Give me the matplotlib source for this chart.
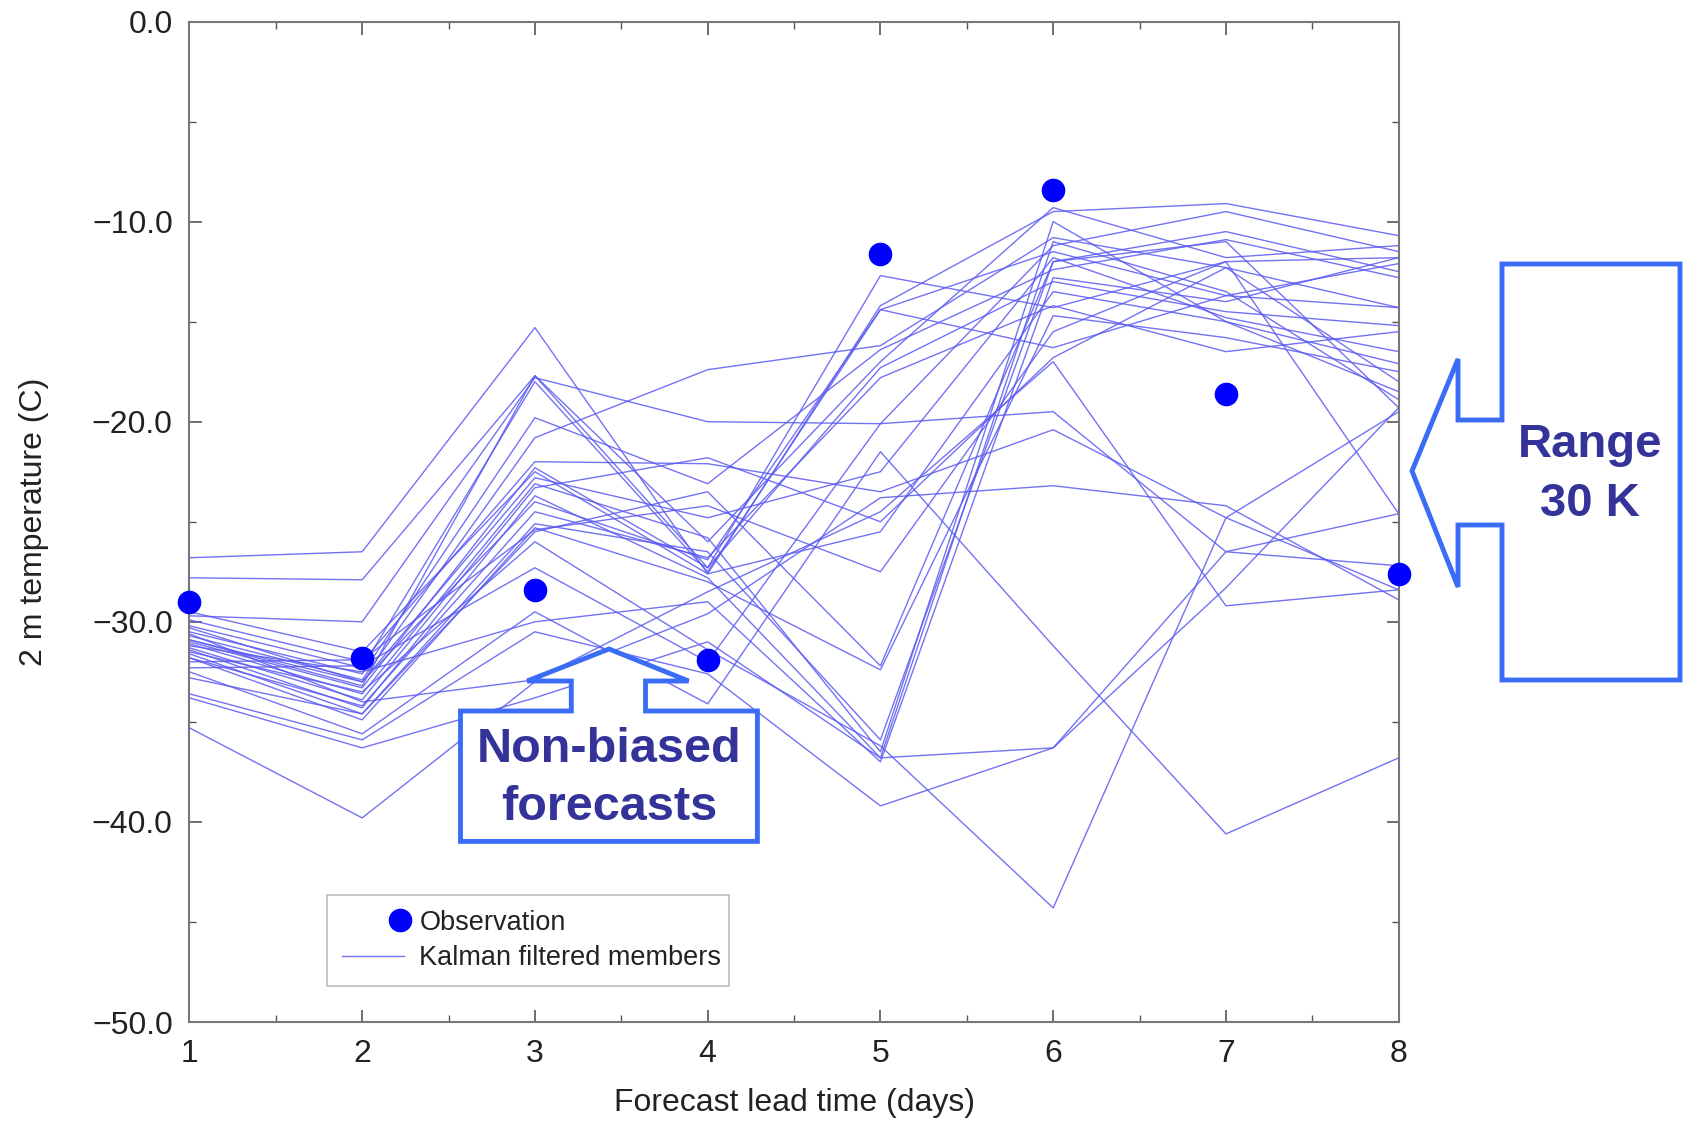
import matplotlib
matplotlib.use("Agg")
import matplotlib.pyplot as plt
from matplotlib.patches import Polygon
from matplotlib.lines import Line2D
from matplotlib.legend_handler import HandlerLine2D
from matplotlib.ticker import MultipleLocator, FuncFormatter

plt.rcParams['font.family'] = ['Liberation Sans', 'DejaVu Sans']

# ---- data ----
lead_days = [1, 2, 3, 4, 5, 6, 7, 8]
observation = [-29.0, -31.8, -28.4, -31.9, -11.6, -8.4, -18.6, -27.6]

m01 = [-35.3, -39.8, -33.0, -29.6, -23.8, -23.2, -24.2, -28.9]
m02 = [-33.8, -36.3, -33.8, -31.0, -36.8, -36.3, -26.5, -24.6]
m03 = [-33.6, -35.9, -30.5, -32.6, -39.2, -36.3, -28.3, -19.3]
m04 = [-32.5, -35.6, -29.5, -34.1, -21.5, -31.2, -40.6, -36.8]
m05 = [-26.8, -26.5, -15.3, -27.6, -14.2, -9.5, -9.1, -10.7]
m06 = [-27.8, -27.9, -17.7, -27.3, -12.7, -14.3, -12.0, -11.8]
m07 = [-29.7, -30.0, -17.8, -20.0, -20.1, -11.2, -9.5, -11.5]
m08 = [-30.2, -32.3, -18.0, -27.5, -14.4, -11.5, -13.7, -12.1]
m09 = [-30.5, -32.6, -19.8, -23.1, -16.4, -12.4, -10.9, -12.8]
m10 = [-30.7, -32.9, -20.8, -17.4, -16.2, -10.8, -12.3, -14.3]
m11 = [-31.0, -33.3, -22.3, -27.3, -17.3, -13.0, -14.5, -15.2]
m12 = [-31.1, -33.6, -23.1, -25.8, -36.5, -10.0, -15.0, -17.1]
m13 = [-31.3, -33.9, -23.3, -21.8, -25.0, -16.8, -12.3, -18.0]
m14 = [-31.4, -34.3, -23.7, -27.8, -36.8, -11.0, -13.5, -18.9]
m15 = [-31.6, -34.6, -25.1, -26.5, -35.9, -12.0, -11.0, -19.3]
m16 = [-31.8, -34.9, -25.3, -28.0, -32.4, -14.7, -15.8, -17.5]
m17 = [-32.0, -31.9, -25.4, -24.2, -27.5, -15.5, -12.0, -24.6]
m18 = [-32.3, -32.2, -27.3, -32.0, -20.1, -19.5, -26.5, -27.2]
m19 = [-29.9, -32.0, -22.0, -22.1, -23.5, -20.4, -24.8, -28.4]
m20 = [-30.9, -33.0, -24.0, -26.9, -14.4, -16.3, -13.7, -14.3]
m21 = [-31.2, -32.5, -30.0, -29.0, -37.0, -12.8, -14.0, -11.8]
m22 = [-30.6, -34.0, -32.9, -28.5, -24.5, -17.0, -29.2, -28.4]
m23 = [-31.5, -33.5, -26.0, -31.4, -36.2, -44.3, -24.8, -19.5]
m24 = [-32.8, -34.6, -25.5, -23.5, -32.2, -12.0, -10.5, -12.5]
m25 = [-29.5, -31.5, -22.5, -27.6, -25.5, -13.5, -15.0, -18.5]
m26 = [-30.9, -33.2, -17.7, -26.0, -17.0, -9.3, -11.8, -11.2]
m27 = [-31.8, -34.2, -24.5, -26.8, -17.8, -14.2, -16.5, -15.5]
m28 = [-30.3, -33.0, -22.8, -24.8, -22.5, -11.8, -14.8, -16.5]
members = [m01, m02, m03, m04, m05, m06, m07, m08, m09, m10, m11, m12, m13,
           m14, m15, m16, m17, m18, m19, m20, m21, m22, m23, m24, m25, m26,
           m27, m28]

y_ticks = [0.0, -10.0, -20.0, -30.0, -40.0, -50.0]

# ---- figure ----
W, H = 1687, 1121
fig = plt.figure(figsize=(W / 100, H / 100), dpi=100)
ax = fig.add_axes([189.4 / W, 1 - 1022 / H, (1398.7 - 189.4) / W, (1022 - 21.5) / H])

line_color = '#5a5af2'
for m in members:
    ax.plot(lead_days, m, color=line_color, lw=1.0, alpha=0.85, zorder=2)
ax.plot(lead_days, observation, linestyle='none', marker='o', ms=16,
        color='#0000ff', zorder=4, clip_on=False)

ax.set_xlim(1, 8)
ax.set_ylim(-50, 0)
ax.xaxis.set_major_locator(MultipleLocator(1))
ax.xaxis.set_minor_locator(MultipleLocator(0.5))
ax.set_yticks(y_ticks)
ax.yaxis.set_minor_locator(MultipleLocator(5))
ax.yaxis.set_major_formatter(FuncFormatter(lambda v, p: f"{v:.1f}".replace('-', '\u2212')))
ax.tick_params(which='both', direction='in', top=True, right=True,
               color='#555555', labelsize=23, labelcolor='#222222')
ax.tick_params(which='major', length=9, width=1.2, pad=12)
ax.tick_params(which='minor', length=5, width=1.0)
for s in ax.spines.values():
    s.set_color('#777777')
    s.set_linewidth(1.5)

ax.set_xlabel('Forecast lead time (days)', fontsize=23, color='#222222', labelpad=14)
ax.set_ylabel('2 m temperature (C)', fontsize=23, color='#222222', labelpad=31)


class RightMarkerHandler(HandlerLine2D):
    """Place the single legend marker at the right end of the handle area."""
    def get_xdata(self, legend, xdescent, ydescent, width, height, fontsize):
        xr = -xdescent + width - 3
        return [xr, xr], [xr]


obs_handle = Line2D([], [], linestyle='none', marker='o', ms=16, color='#0000ff')
mem_handle = Line2D([], [], color=line_color, lw=1.0, alpha=0.85)
leg = ax.legend([obs_handle, mem_handle], ['Observation', 'Kalman filtered members'],
                handler_map={obs_handle: RightMarkerHandler(numpoints=1)},
                loc='lower left', bbox_to_anchor=(0.114, 0.036, 0.332, 0.09),
                mode='expand', fontsize=19.5, frameon=True, fancybox=False,
                handlelength=2.3, handletextpad=0.55, borderpad=0.55,
                labelspacing=0.35, borderaxespad=0)
leg.get_frame().set_edgecolor('#aaaaaa')
leg.get_frame().set_linewidth(1.2)
for t in leg.get_texts():
    t.set_color('#222222')

# ---- callouts (figure pixel coordinates) ----
def to_fig(pts):
    return [(x / W, 1 - y / H) for x, y in pts]

edge = '#3a6cf6'
text_c = '#333399'

nb = [(460.5, 711), (571.3, 711), (571.3, 681), (527.2, 681), (609, 649),
      (688.6, 681), (645.5, 681), (645.5, 711), (757.4, 711), (757.4, 841.4),
      (460.5, 841.4)]
fig.add_artist(Polygon(to_fig(nb), closed=True, transform=fig.transFigure,
                       facecolor='white', edgecolor=edge, lw=3.5, zorder=5))
fig.text(609 / W, 1 - 750 / H, 'Non-biased', ha='center', va='center',
         fontsize=35, fontweight='bold', color=text_c, zorder=6)
fig.text(609 / W, 1 - 807 / H, 'forecasts', ha='center', va='center',
         fontsize=35, fontweight='bold', color=text_c, zorder=6)

rg = [(1502, 264), (1680, 264), (1680, 680), (1502, 680), (1502, 525),
      (1458, 525), (1458, 587), (1412, 471), (1458, 359), (1458, 420),
      (1502, 420)]
fig.add_artist(Polygon(to_fig(rg), closed=True, transform=fig.transFigure,
                       facecolor='white', edgecolor=edge, lw=3.5, zorder=5))
fig.text(1590 / W, 1 - 445 / H, 'Range', ha='center', va='center',
         fontsize=34, fontweight='bold', color=text_c, zorder=6)
fig.text(1590 / W, 1 - 504 / H, '30 K', ha='center', va='center',
         fontsize=34, fontweight='bold', color=text_c, zorder=6)

fig.savefig('out.png', dpi=100)
